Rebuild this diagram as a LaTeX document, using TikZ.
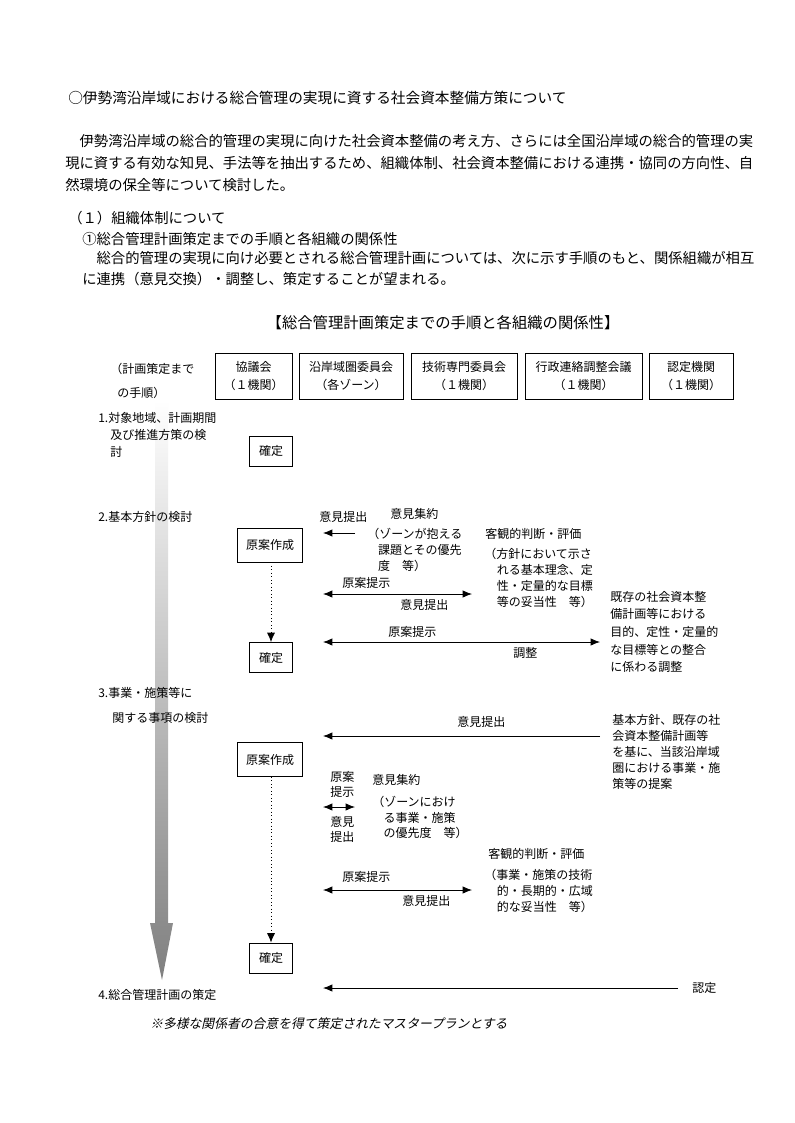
\documentclass[tikz,border=0pt]{standalone}
\usepackage{fontspec}
\setmainfont{Noto Sans CJK JP}
\newfontfamily\jpit[FakeSlant=0.22]{Noto Sans CJK JP}
\usetikzlibrary{arrows.meta}
\tikzset{
  body/.style={anchor=west, inner sep=0pt, font=\fontsize{10.75}{16.5}\selectfont},
  dg/.style={anchor=west, inner sep=0pt, font=\fontsize{9}{12}\selectfont},
  dgm/.style={anchor=north west, inner sep=0pt, align=left, font=\fontsize{9}{12}\selectfont},
  hbox/.style={draw, line width=0.7pt, inner sep=0pt, align=center, minimum height=34.5pt, font=\fontsize{9}{13.5}\selectfont},
  sbox/.style={draw, line width=0.7pt, inner sep=0pt, align=center, font=\fontsize{9}{12}\selectfont},
  arr/.style={-{Latex[length=7pt,width=5.5pt]}, line width=0.6pt},
  darr/.style={{Latex[length=7pt,width=5.5pt]}-{Latex[length=7pt,width=5.5pt]}, line width=0.6pt},
  dotarr/.style={-{Latex[length=7pt,width=6pt]}, line width=0.6pt, dotted},
}
\begin{document}
\begin{tikzpicture}[x=0.75pt,y=-0.75pt]
\useasboundingbox (0,0) rectangle (794,1123);
\fill[white] (0,0) rectangle (794,1123);

% ---------- top text ----------
\node[body, font=\fontsize{11}{16}\selectfont] (title) at (68,98) {○伊勢湾沿岸域における総合管理の実現に資する社会資本整備方策について};
\node[body] (p1) at (65,141) {　伊勢湾沿岸域の総合的管理の実現に向けた社会資本整備の考え方、さらには全国沿岸域の総合的管理の実};
\node[body] (p2) at (65,163) {現に資する有効な知見、手法等を抽出するため、組織体制、社会資本整備における連携・協同の方向性、自};
\node[body] (p3) at (65,185) {然環境の保全等について検討した。};
\node[body] (s1) at (68,218) {（１）組織体制について};
\node[body] (s2) at (82,239) {①総合管理計画策定までの手順と各組織の関係性};
\node[body] (s3) at (82,258) {　総合的管理の実現に向け必要とされる総合管理計画については、次に示す手順のもと、関係組織が相互};
\node[body] (s4) at (82,279) {に連携（意見交換）・調整し、策定することが望まれる。};

% ---------- diagram title ----------
\node[inner sep=0pt, font=\fontsize{11.5}{14}\selectfont] (dtitle) at (443,323) {【総合管理計画策定までの手順と各組織の関係性】};

% ---------- header ----------
\node[dg] (hdr1) at (110,369) {（計画策定まで};
\node[dg] (hdr2) at (117,393) {の手順）};
\node[hbox, minimum width=57.75pt] (b1) at (253.5,376) {協議会\\（１機関）};
\node[hbox, minimum width=78pt] (b2) at (351,376) {沿岸域圏委員会\\（各ゾーン）};
\node[hbox, minimum width=79.5pt] (b3) at (464,376) {技術専門委員会\\（１機関）};
\node[hbox, minimum width=87.75pt] (b4) at (583.5,376) {行政連絡調整会議\\（１機関）};
\node[hbox, minimum width=63pt] (b5) at (691,376) {認定機関\\（１機関）};

% ---------- big gradient arrow ----------
\shade[top color=white, bottom color=black!50, draw=none]
  (155,400) -- (168,400) -- (168,923) -- (173,923) -- (162,980) -- (150,923) -- (155,923) -- cycle;

% ---------- left step labels ----------
\node[dgm, font=\fontsize{9}{12.75}\selectfont] (l1) at (98,412) {1.対象地域、計画期間\\\hspace*{1em}及び推進方策の検\\\hspace*{1em}討};
\node[dg] (l2) at (98,517) {2.基本方針の検討};
\node[dg] (l3a) at (98,693) {3.事業・施策等に};
\node[dg] (l3b) at (112,718) {関する事項の検討};
\node[dg] (l4) at (98,995) {4.総合管理計画の策定};

% ---------- step boxes ----------
\node[sbox, minimum width=32.25pt, minimum height=22.5pt] (k1) at (271,451) {確定};
\node[sbox, minimum width=48.75pt, minimum height=25.5pt] (g2) at (270,545) {原案作成};
\node[sbox, minimum width=32.25pt, minimum height=22.5pt] (k2) at (271,657.5) {確定};
\node[sbox, minimum width=48.75pt, minimum height=25.5pt] (g3) at (270,759.5) {原案作成};
\node[sbox, minimum width=32.25pt, minimum height=22.5pt] (k3) at (271,958) {確定};

\draw[dotarr] (g2.south -| k2.north) -- (k2.north);
\draw[dotarr] (g3.south -| k3.north) -- (k3.north);

% ---------- step 2 ----------
\node[dg] (t2a) at (319,517) {意見提出};
\coordinate (a1s) at (355,533); \coordinate (a1e) at (323,533);
\draw[arr] (a1s) -- (a1e);
\node[dg] (t2b) at (390,514) {意見集約};
\node[dgm] (t2c) at (367,528) {（ゾーンが抱える\\\hspace*{0.9em}課題とその優先\\\hspace*{0.9em}度　等）};
\node[dg] (t2d) at (485,534) {客観的判断・評価};
\node[dgm] (t2e) at (484,548) {（方針において示さ\\\hspace*{1.05em}れる基本理念、定\\\hspace*{1.05em}性・定量的な目標\\\hspace*{1.05em}等の妥当性　等）};
\node[dg] (t2f) at (342,583) {原案提示};
\coordinate (a2s) at (323,594); \coordinate (a2e) at (472,594);
\draw[darr] (a2s) -- (a2e);
\node[dg] (t2g) at (400,605) {意見提出};
\node[dgm, font=\fontsize{9}{13.2}\selectfont] (t2h) at (610,591) {既存の社会資本整\\備計画等における\\目的、定性・定量的\\な目標等との整合\\に係わる調整};
\node[dg] (t2i) at (388,632) {原案提示};
\coordinate (a3s) at (323,642); \coordinate (a3e) at (600,642);
\draw[darr] (a3s) -- (a3e);
\node[dg] (t2j) at (513,653) {調整};

% ---------- step 3 ----------
\node[dg] (t3a) at (457,722) {意見提出};
\coordinate (a4s) at (600,736); \coordinate (a4e) at (323,736);
\draw[arr] (a4s) -- (a4e);
\node[dgm] (t3b) at (612,714) {基本方針、既存の社\\会資本整備計画等\\を基に、当該沿岸域\\圏における事業・施\\策等の提案};
\node[dgm, font=\fontsize{9}{11}\selectfont] (t3c) at (330,771) {原案\\提示};
\coordinate (a5s) at (323,807); \coordinate (a5e) at (355,807);
\draw[darr] (a5s) -- (a5e);
\node[dgm, font=\fontsize{9}{11}\selectfont] (t3d) at (330,816) {意見\\提出};
\node[dg] (t3e) at (372,780) {意見集約};
\node[dgm, font=\fontsize{9}{11.6}\selectfont] (t3f) at (372,796) {（ゾーンにおけ\\\hspace*{0.95em}る事業・施策\\\hspace*{0.95em}の優先度　等）};
\node[dg] (t3g) at (488,854) {客観的判断・評価};
\node[dgm] (t3h) at (484,869) {（事業・施策の技術\\\hspace*{1.05em}的・長期的・広域\\\hspace*{1.05em}的な妥当性　等）};
\node[dg] (t3i) at (342,877) {原案提示};
\coordinate (a6s) at (323,890); \coordinate (a6e) at (472,890);
\draw[darr] (a6s) -- (a6e);
\node[dg] (t3j) at (402,901) {意見提出};

% ---------- step 4 ----------
\coordinate (a7s) at (678,988); \coordinate (a7e) at (323,988);
\draw[arr] (a7s) -- (a7e);
\node[dg] (t4a) at (692,988) {認定};

% ---------- footnote ----------
\node[anchor=west, inner sep=0pt, font=\jpit\fontsize{9.6}{12}\selectfont] (foot) at (150,1024) {※多様な関係者の合意を得て策定されたマスタープランとする};
\end{tikzpicture}
\end{document}
